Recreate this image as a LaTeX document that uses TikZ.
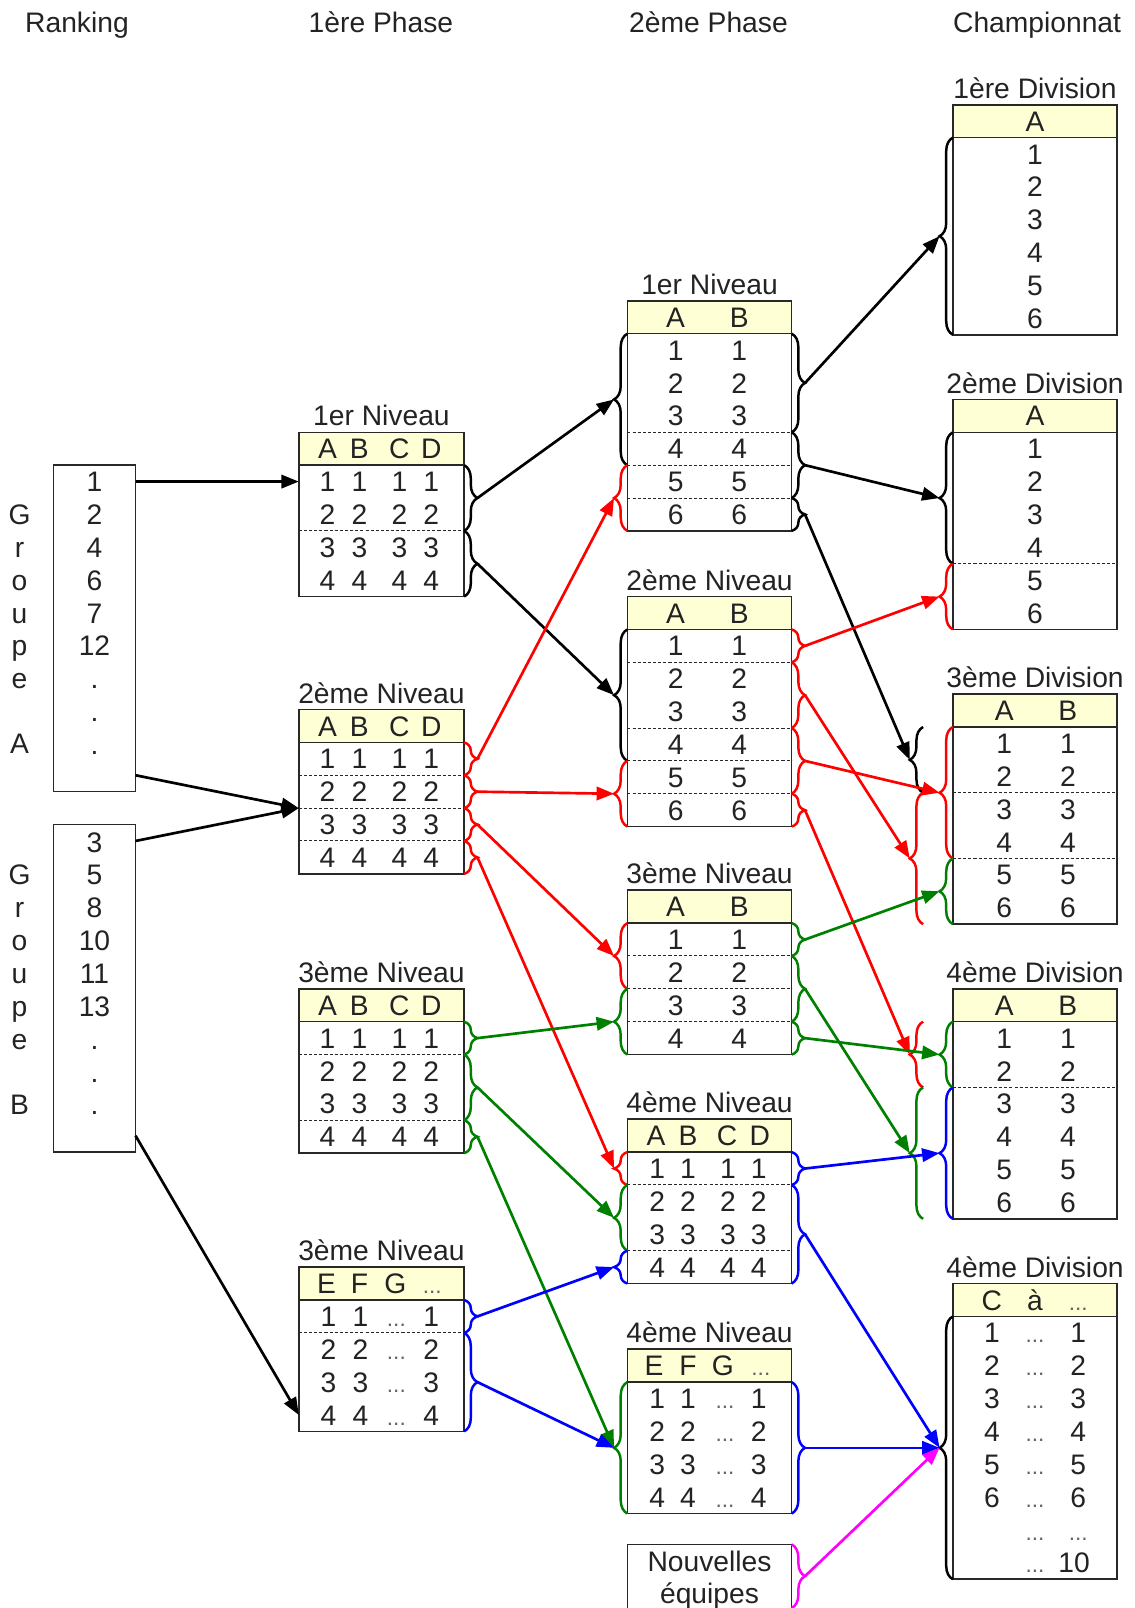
\documentclass[tikz,border=0pt]{standalone}
\usepackage{fontspec}
\setmainfont{Liberation Sans}
\usetikzlibrary{decorations.pathreplacing,arrows.meta}
\definecolor{hdrfill}{RGB}{255,255,214}
\definecolor{ink}{RGB}{35,35,35}
\definecolor{frame}{RGB}{40,40,40}
\definecolor{grn}{RGB}{0,128,0}
\definecolor{mag}{RGB}{255,0,255}
\definecolor{dotgray}{RGB}{100,100,100}
\newcommand\MkTab[6]{%
  \node[hdrbox,minimum width=#4pt,minimum height=32pt,anchor=north west] (#1h) at (#2,#3) {};
  \node[bodybox,minimum width=#4pt,minimum height={#5*32pt},anchor=north west] (#1b) at (#2,#3+32) {};
  \node[txt] (#1l) at (#2+#4/2,#3-16) {#6};
}
\begin{document}
\begin{tikzpicture}[x=1pt,y=-1pt,
  txt/.style={font=\fontsize{27.5}{30}\selectfont,text=ink,inner sep=0pt,text height=19.7pt,text depth=0pt,anchor=center},
  dots/.style={font=\fontsize{22}{24}\selectfont,text=dotgray,inner sep=0pt,anchor=base,yshift=-9.85pt},
  hdrbox/.style={draw=frame,fill=hdrfill,line width=1.5pt,outer sep=0pt,inner sep=0pt},
  bodybox/.style={draw=frame,fill=white,line width=1.5pt,outer sep=0pt,inner sep=0pt},
  sep/.style={draw=frame,line width=1pt,dash pattern=on 3pt off 2pt},
  brc/.style={decorate,decoration={brace,amplitude=13pt},line width=2.4pt},
  con/.style={-{Triangle[length=17pt,width=13pt]},line width=2.6pt},
]
\useasboundingbox (0,0) rectangle (1104.4,1566);
\clip (0,0) rectangle (1104.4,1566);

% ---------- column titles
\node[txt] (tRank) at (75,22) {Ranking};
\node[txt] (tP1) at (371,22) {1ère Phase};
\node[txt] (tP2) at (690,22) {2ème Phase};
\node[txt] (tCh) at (1010,22) {Championnat};

% ---------- ranking boxes
\node[bodybox,minimum width=80pt,minimum height=318pt,anchor=north west] (rkA) at (52,453) {};
\node[bodybox,minimum width=80pt,minimum height=319pt,anchor=north west] (rkB) at (52,803) {};
\foreach \v [count=\k] in {1,2,4,6,7,12,.,.,.}
  {\node[txt] (rkA\k) at (92,{469+32*(\k-1)}) {\v};}
\foreach \v [count=\k] in {3,5,8,10,11,13,.,.,.}
  {\node[txt] (rkB\k) at (92,{820+32*(\k-1)}) {\v};}
\foreach \v/\y [count=\k] in {G/501,r/533,o/565,u/597,p/629,e/661,A/724}
  {\node[txt] (gA\k) at (19,\y) {\v};}
\foreach \v/\y [count=\k] in {G/852,r/884,o/916,u/948,p/980,e/1012,B/1076}
  {\node[txt] (gB\k) at (19,\y) {\v};}

% ---------- 1ere phase
\MkTab{p1a}{291}{421}{161}{4}{1er Niveau}
\MkTab{p1b}{291}{691}{161}{4}{2ème Niveau}
\MkTab{p1c}{291}{963}{161}{4}{3ème Niveau}
\MkTab{p1d}{291}{1234}{161}{4}{3ème Niveau}
\foreach \t/\yt in {p1a/421,p1b/691,p1c/963}{
  \foreach \c/\x [count=\k] in {A/319,B/350,C/389,D/420}
    {\node[txt] (\t h\k) at (\x,\yt+16) {\c};}
  \foreach \r in {1,2,3,4}{
    \foreach \x [count=\k] in {319,350,389,420}
      {\node[txt] (\t r\r c\k) at (\x,{\yt+16+32*\r}) {\r};}}
}
\foreach \c/\x [count=\k] in {E/318,F/350,G/385}
  {\node[txt] (p1dh\k) at (\x,1250) {\c};}
\node[dots] (p1dh4) at (421,1250) {...};
\foreach \r in {1,2,3,4}{
  \node[txt] (p1dr\r c1) at (320,{1250+32*\r}) {\r};
  \node[txt] (p1dr\r c2) at (351,{1250+32*\r}) {\r};
  \node[dots] (p1dr\r c3) at (386,{1250+32*\r}) {...};
  \node[txt] (p1dr\r c4) at (420,{1250+32*\r}) {\r};
}
\draw[sep] (291,517) -- (452,517);
\draw[sep] (291,755) -- (452,755);
\draw[sep] (291,787) -- (452,787);
\draw[sep] (291,819) -- (452,819);
\draw[sep] (291,1027) -- (452,1027);
\draw[sep] (291,1091) -- (452,1091);
\draw[sep] (291,1298) -- (452,1298);

% ---------- 2eme phase
\MkTab{p2a}{611}{293}{160}{6}{1er Niveau}
\MkTab{p2b}{611}{581}{160}{6}{2ème Niveau}
\MkTab{p2c}{611}{867}{160}{4}{3ème Niveau}
\MkTab{p2d}{611}{1090}{160}{4}{4ème Niveau}
\MkTab{p2e}{611}{1314}{160}{4}{4ème Niveau}
\foreach \t/\yt/\n in {p2a/293/6,p2b/581/6,p2c/867/4}{
  \node[txt] (\t h1) at (658,\yt+16) {A};
  \node[txt] (\t h2) at (720,\yt+16) {B};
  \foreach \r in {1,...,\n}{
    \node[txt] (\t r\r c1) at (658,{\yt+16+32*\r}) {\r};
    \node[txt] (\t r\r c2) at (720,{\yt+16+32*\r}) {\r};}
}
\foreach \c/\x [count=\k] in {A/639,B/670,C/708,D/740}
  {\node[txt] (p2dh\k) at (\x,1106) {\c};}
\foreach \r in {1,2,3,4}{
  \foreach \x [count=\k] in {640,670,709,739}
    {\node[txt] (p2dr\r c\k) at (\x,{1106+32*\r}) {\r};}}
\foreach \c/\x [count=\k] in {E/637,F/670,G/704}
  {\node[txt] (p2eh\k) at (\x,1330) {\c};}
\node[dots] (p2eh4) at (741,1330) {...};
\foreach \r in {1,2,3,4}{
  \node[txt] (p2er\r c1) at (640,{1330+32*\r}) {\r};
  \node[txt] (p2er\r c2) at (670,{1330+32*\r}) {\r};
  \node[dots] (p2er\r c3) at (706,{1330+32*\r}) {...};
  \node[txt] (p2er\r c4) at (739,{1330+32*\r}) {\r};
}
\draw[sep] (611,421) -- (771,421);
\draw[sep] (611,453) -- (771,453);
\draw[sep] (611,485) -- (771,485);
\draw[sep] (611,645) -- (771,645);
\draw[sep] (611,709) -- (771,709);
\draw[sep] (611,741) -- (771,741);
\draw[sep] (611,773) -- (771,773);
\draw[sep] (611,931) -- (771,931);
\draw[sep] (611,963) -- (771,963);
\draw[sep] (611,995) -- (771,995);
\draw[sep] (611,1154) -- (771,1154);
\draw[sep] (611,1218) -- (771,1218);
\node[bodybox,minimum width=160pt,minimum height=100pt,anchor=north west] (nv) at (611,1504) {};
\node[txt] (nv1) at (691,1521) {Nouvelles};
\node[txt] (nv2) at (691,1552) {équipes};

% ---------- championnat
\MkTab{ca}{928}{102}{160}{6}{1ère Division}
\MkTab{cb}{928}{389}{160}{6}{2ème Division}
\MkTab{cc}{928}{676}{160}{6}{3ème Division}
\MkTab{cd}{928}{963}{160}{6}{4ème Division}
\MkTab{ce}{928}{1250}{160}{8}{4ème Division}
\foreach \t/\yt in {ca/102,cb/389}{
  \node[txt] (\t h1) at (1008,\yt+16) {A};
  \foreach \r in {1,...,6}
    {\node[txt] (\t r\r) at (1008,{\yt+16+32*\r}) {\r};}
}
\foreach \t/\yt in {cc/676,cd/963}{
  \node[txt] (\t h1) at (978,\yt+16) {A};
  \node[txt] (\t h2) at (1040,\yt+16) {B};
  \foreach \r in {1,...,6}{
    \node[txt] (\t r\r c1) at (978,{\yt+16+32*\r}) {\r};
    \node[txt] (\t r\r c2) at (1040,{\yt+16+32*\r}) {\r};}
}
\node[txt] (ceh1) at (966,1266) {C};
\node[txt] (ceh2) at (1008,1266) {à};
\node[dots] (ceh3) at (1050,1266) {...};
\foreach \r in {1,...,6}{
  \node[txt] (cer\r c1) at (966,{1266+32*\r}) {\r};
  \node[dots] (cer\r c2) at (1008,{1266+32*\r}) {...};
  \node[txt] (cer\r c3) at (1050,{1266+32*\r}) {\r};
}
\node[dots] (cer7c2) at (1008,1490) {...};
\node[dots] (cer7c3) at (1050,1490) {...};
\node[dots] (cer8c2) at (1008,1522) {...};
\node[txt] (cer8c3) at (1046,1522) {10};
\draw[sep] (928,549) -- (1088,549);
\draw[sep] (928,772) -- (1088,772);
\draw[sep] (928,836) -- (1088,836);
\draw[sep] (928,1059) -- (1088,1059);

% ---------- braces (right-pointing: top to bottom, left-pointing: bottom to top)
% 1ere phase, right side
\draw[brc] (452,453) -- (452,517);
\draw[brc] (452,517) -- (452,581);
\foreach \r in {1,2,3,4}{\draw[brc,red] (452,{723+32*(\r-1)}) -- (452,{723+32*\r});}
\draw[brc,grn] (452,995) -- (452,1027);
\draw[brc,grn] (452,1027) -- (452,1091);
\draw[brc,grn] (452,1091) -- (452,1123);
\draw[brc,blue] (452,1266) -- (452,1298);
\draw[brc,blue] (452,1298) -- (452,1394);
% 2eme phase, left side
\draw[brc] (611,453) -- (611,325);
\draw[brc,red] (611,517) -- (611,453);
\draw[brc] (611,741) -- (611,613);
\draw[brc,red] (611,805) -- (611,741);
\draw[brc,red] (611,963) -- (611,899);
\draw[brc,grn] (611,1027) -- (611,963);
\draw[brc,red] (611,1154) -- (611,1122);
\draw[brc,grn] (611,1218) -- (611,1154);
\draw[brc,blue] (611,1250) -- (611,1218);
\draw[brc,grn] (611,1474) -- (611,1346);
% 2eme phase, right side
\draw[brc] (771,325) -- (771,421);
\draw[brc] (771,421) -- (771,485);
\draw[brc] (771,485) -- (771,517);
\draw[brc,red] (771,613) -- (771,645);
\draw[brc,red] (771,645) -- (771,709);
\draw[brc,red] (771,709) -- (771,773);
\draw[brc,red] (771,773) -- (771,805);
\draw[brc,grn] (771,899) -- (771,931);
\draw[brc,grn] (771,931) -- (771,995);
\draw[brc,grn] (771,995) -- (771,1027);
\draw[brc,blue] (771,1122) -- (771,1154);
\draw[brc,blue] (771,1154) -- (771,1250);
\draw[brc,blue] (771,1346) -- (771,1474);
\draw[brc,mag] (771,1504) -- (771,1566);
% championnat, inner
\draw[brc] (928,326) -- (928,134);
\draw[brc] (928,549) -- (928,421);
\draw[brc,red] (928,613) -- (928,549);
\draw[brc,red] (928,836) -- (928,708);
\draw[brc,grn] (928,900) -- (928,836);
\draw[brc,grn] (928,1059) -- (928,995);
\draw[brc,blue] (928,1187) -- (928,1059);
\draw[brc] (928,1538) -- (928,1282);
% championnat, outer
\draw[brc] (899,772) -- (899,708);
\draw[brc,red] (899,900) -- (899,772);
\draw[brc,red] (899,1059) -- (899,995);
\draw[brc,grn] (899,1187) -- (899,1059);

% ---------- connector end points
\coordinate (rkAo1) at (132,469);
\coordinate (rkAo2) at (132,755);
\coordinate (rkBo1) at (132,819);
\coordinate (rkBo2) at (132,1106);
\coordinate (p1ai) at (291,469);
\coordinate (p1bi) at (291,787);
\coordinate (p1di) at (291,1378);
\coordinate (p1ao12) at (465,485);
\coordinate (p1ao34) at (465,549);
\foreach \r in {1,2,3,4}{\coordinate (p1bo\r) at (465,{707+32*\r});}
\coordinate (p1co1) at (465,1011);
\coordinate (p1co23) at (465,1059);
\coordinate (p1co4) at (465,1107);
\coordinate (p1do1) at (465,1282);
\coordinate (p1do24) at (465,1346);
\coordinate (p2aiK) at (598,389);
\coordinate (p2aiR) at (598,485);
\coordinate (p2biK) at (598,677);
\coordinate (p2biR) at (598,773);
\coordinate (p2ciR) at (598,931);
\coordinate (p2ciG) at (598,995);
\coordinate (p2diR) at (598,1138);
\coordinate (p2diG) at (598,1186);
\coordinate (p2diB) at (598,1234);
\coordinate (p2ei) at (598,1410);
\coordinate (p2ao13) at (784,373);
\coordinate (p2ao45) at (784,453);
\coordinate (p2ao6) at (784,501);
\coordinate (p2bo1) at (784,629);
\coordinate (p2bo23) at (784,677);
\coordinate (p2bo45) at (784,741);
\coordinate (p2bo6) at (784,789);
\coordinate (p2co1) at (784,915);
\coordinate (p2co23) at (784,963);
\coordinate (p2co4) at (784,1011);
\coordinate (p2do1) at (784,1138);
\coordinate (p2do24) at (784,1202);
\coordinate (p2eo) at (784,1410);
\coordinate (nvo) at (784,1535);
\coordinate (cai) at (915,230);
\coordinate (cbiK) at (915,485);
\coordinate (cbiR) at (915,581);
\coordinate (cciR) at (915,772);
\coordinate (cciG) at (915,868);
\coordinate (ccoK) at (886,740);
\coordinate (ccoR) at (886,836);
\coordinate (cdiG) at (915,1027);
\coordinate (cdiB) at (915,1123);
\coordinate (cdoR) at (886,1027);
\coordinate (cdoG) at (886,1123);
\coordinate (cei) at (915,1410);

% ---------- connectors
\draw[con] (rkAo1) -- (p1ai);
\draw[con] (rkAo2) -- (p1bi);
\draw[con] (rkBo1) -- (p1bi);
\draw[con] (rkBo2) -- (p1di);
\draw[con] (p1ao12) -- (p2aiK);
\draw[con] (p1ao34) -- (p2biK);
\draw[con] (p2ao13) -- (cai);
\draw[con] (p2ao45) -- (cbiK);
\draw[con] (p2ao6) -- (ccoK);
\draw[con,red] (p1bo1) -- (p2aiR);
\draw[con,red] (p1bo2) -- (p2biR);
\draw[con,red] (p1bo3) -- (p2ciR);
\draw[con,red] (p1bo4) -- (p2diR);
\draw[con,red] (p2bo1) -- (cbiR);
\draw[con,red] (p2bo23) -- (ccoR);
\draw[con,red] (p2bo45) -- (cciR);
\draw[con,red] (p2bo6) -- (cdoR);
\draw[con,grn] (p1co1) -- (p2ciG);
\draw[con,grn] (p1co23) -- (p2diG);
\draw[con,grn] (p1co4) -- (p2ei);
\draw[con,grn] (p2co1) -- (cciG);
\draw[con,grn] (p2co23) -- (cdoG);
\draw[con,grn] (p2co4) -- (cdiG);
\draw[con,blue] (p1do1) -- (p2diB);
\draw[con,blue] (p1do24) -- (p2ei);
\draw[con,blue] (p2do1) -- (cdiB);
\draw[con,blue] (p2do24) -- (cei);
\draw[con,blue] (p2eo) -- (cei);
\draw[con,mag] (nvo) -- (cei);
\end{tikzpicture}
\end{document}
